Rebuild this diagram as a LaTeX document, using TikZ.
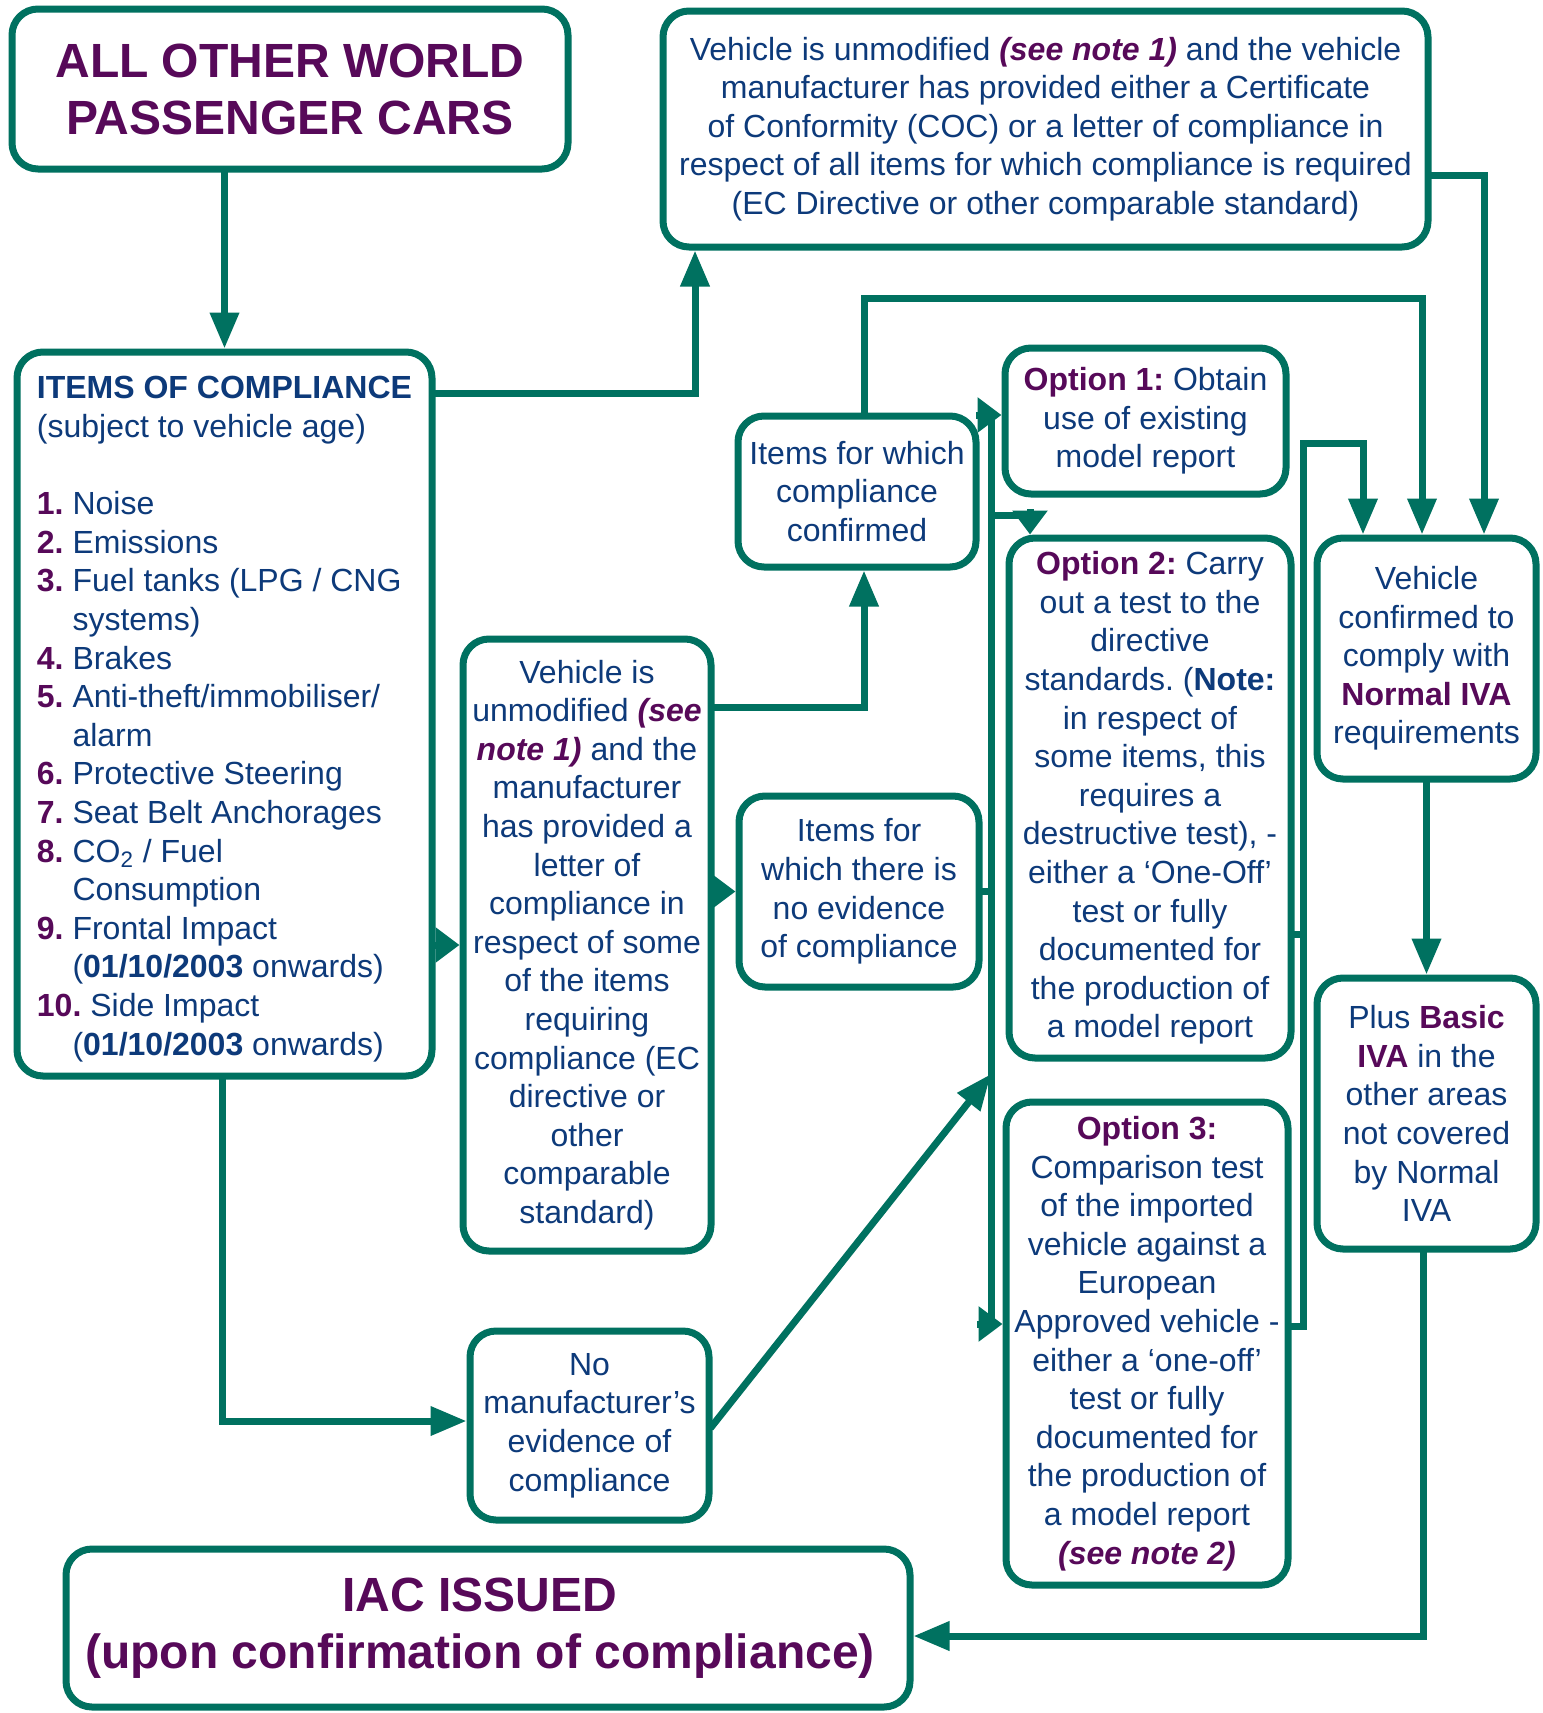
\documentclass[tikz,border=0pt]{standalone}
\usepackage{fontspec}
\setmainfont{Liberation Sans}
\usetikzlibrary{arrows.meta}
\definecolor{grn}{RGB}{0,113,96}
\definecolor{pur}{RGB}{87,9,89}
\definecolor{txt}{RGB}{13,58,122}
\frenchspacing
\newcommand\bodyfont{\fontsize{16}{19.3}\selectfont}
\newcommand\ttlfont{\fontsize{24}{28.5}\selectfont\bfseries}
\newcommand\myop[1]{\textcolor{pur}{\textbf{#1}}}
\newcommand\mynote[1]{\textcolor{pur}{\textbf{\textit{#1}}}}
\newcommand\myind{\hspace*{17.8pt}}
\tikzset{
  box/.style={draw=grn, line width=3.5pt, rounded corners=13pt, fill=white, align=center, text=txt, inner sep=0pt, font=\bodyfont},
  con/.style={draw=grn, line width=3.5pt, line cap=rect},
  arr/.style={con, -{Triangle[length=18pt,width=14pt]}},
  sarr/.style={con, -{Triangle[length=12pt,width=17pt]}},
}
\begin{document}
\begin{tikzpicture}[x=0.5pt,y=-0.5pt]
\useasboundingbox (0,0) rectangle (1542,1713);
\fill[white] (0,0) rectangle (1542,1713);

% boxes
\node[box, minimum width=278pt, minimum height=80pt, text=pur, font=\ttlfont] (A) at (290,89)
  {ALL OTHER WORLD\\PASSENGER CARS};
\node[box, minimum width=207.5pt, minimum height=362pt, align=left] (B) at (224.5,714)
  {\rule{0pt}{16.2pt}\textbf{ITEMS OF COMPLIANCE}\\
   (subject to vehicle age)\\[19.3pt]
   \myop{1.} Noise\\
   \myop{2.} Emissions\\
   \myop{3.} Fuel tanks (LPG / CNG\\
   \myind systems)\\
   \myop{4.} Brakes\\
   \myop{5.} Anti-theft/immobiliser/\\
   \myind alarm\\
   \myop{6.} Protective Steering\\
   \myop{7.} Seat Belt Anchorages\\
   \myop{8.} CO\textsubscript{2} / Fuel\\
   \myind Consumption\\
   \myop{9.} Frontal Impact\\
   \myind (\textbf{01/10/2003} onwards)\\
   \myop{10.} Side Impact\\
   \myind (\textbf{01/10/2003} onwards)};
\node[box, minimum width=382.5pt, minimum height=118pt] (C) at (1045.5,129)
  {Vehicle is unmodified \mynote{(see note 1)} and the vehicle\\
   manufacturer has provided either a Certificate\\
   of Conformity (COC) or a letter of compliance in\\
   respect of all items for which compliance is required\\
   (EC Directive or other comparable standard)};
\node[box, minimum width=119pt, minimum height=75.5pt] (D) at (857,491.5)
  {Items for which\\compliance\\confirmed};
\node[box, minimum width=124pt, minimum height=306pt] (E) at (587,945)
  {Vehicle is\\unmodified \mynote{(see}\\\mynote{note 1)} and the\\manufacturer\\has provided a\\letter of\\compliance in\\respect of some\\of the items\\requiring\\compliance (EC\\directive or\\other\\comparable\\standard)};
\node[box, minimum width=120pt, minimum height=95.5pt] (F) at (859,891.5)
  {Items for\\which there is\\no evidence\\of compliance};
\node[box, minimum width=119.5pt, minimum height=94.5pt] (G) at (589.5,1425.5)
  {No\\manufacturer’s\\evidence of\\compliance};
\node[box, minimum width=140.5pt, minimum height=73pt] (O1) at (1145.5,421)
  {\myop{Option 1:} Obtain\\use of existing\\model report};
\node[box, minimum width=141pt, minimum height=260pt] (O2) at (1150,798)
  {\myop{Option 2:} Carry\\out a test to the\\directive\\standards. (\textbf{Note:}\\in respect of\\some items, this\\requires a\\destructive test), -\\either a ‘One-Off’\\test or fully\\documented for\\the production of\\a model report};
\node[box, minimum width=141pt, minimum height=241.5pt] (O3) at (1147,1343.5)
  {\myop{Option 3:}\\Comparison test\\of the imported\\vehicle against a\\European\\Approved vehicle -\\either a ‘one-off’\\test or fully\\documented for\\the production of\\a model report\\\mynote{(see note 2)}};
\node[box, minimum width=109.5pt, minimum height=120.5pt] (H) at (1426.5,658.5)
  {Vehicle\\confirmed to\\comply with\\\myop{Normal IVA}\\requirements};
\node[box, minimum width=109.5pt, minimum height=135.5pt] (I) at (1426.5,1113.5)
  {Plus \myop{Basic}\\\myop{IVA} in the\\other areas\\not covered\\by Normal\\IVA};
\node[box, minimum width=422pt, minimum height=79pt, text=pur, font=\ttlfont] (J) at (488,1628)
  {IAC ISSUED\hspace*{8pt}\\(upon confirmation of compliance)\hspace*{8pt}};

% waypoints
\coordinate (p2) at (695,393);
\coordinate (p3) at (1484,175);
\coordinate (p4) at (864,707);
\coordinate (p5a) at (864,298);
\coordinate (p5b) at (1422,298);
\coordinate (v1t) at (991,415);
\coordinate (v1b) at (991,1324);
\coordinate (v1m) at (991,515);
\coordinate (v1n) at (1030,515);
\coordinate (v1d) at (991,1074);
\coordinate (v2t) at (1303,443);
\coordinate (v2b) at (1303,1326);
\coordinate (v2r) at (1363,443);
\coordinate (v2o) at (1303,934);
\coordinate (p11) at (1423,1636);
\coordinate (p12) at (222,1421);

% connectors
\draw[arr] (B.north |- A.south) -- (B.north);
\draw[arr] (B.east |- p2) -- (p2) -- (p2 |- C.south);
\draw[arr] (C.east |- p3) -- (p3) -- (p3 |- H.north);
\draw[arr] (E.east |- p4) -- (p4) -- (p4 |- D.south);
\draw[arr] (p5a |- D.north) -- (p5a) -- (p5b) -- (p5b |- H.north);
\draw[sarr] (B.east |- E.west) -- (E.west);
\draw[sarr] (E.east |- F.west) -- (F.west);
\draw[con] (F.east) -- (F.east -| v1t);
\draw[con] (v1t) -- (v1b);
\draw[sarr] (v1t) -- (v1t -| O1.west);
\draw[sarr] (v1b) -- (v1b -| O3.west);
\draw[sarr] (v1m) -- (v1n) -- (v1n |- O2.north);
\draw[arr] (G.east) -- (v1d);
\draw[arr] (v2b) -- (v2t) -- (v2r) -- (v2r |- H.north);
\draw[con] (O2.east |- v2o) -- (v2o);
\draw[con] (O3.east |- v2b) -- (v2b);
\draw[arr] (H.south) -- (I.north);
\draw[arr] (I.south -| p11) -- (p11) -- (p11 -| J.east);
\draw[arr] (B.south -| p12) -- (p12) -- (p12 -| G.west);
\end{tikzpicture}
\end{document}
